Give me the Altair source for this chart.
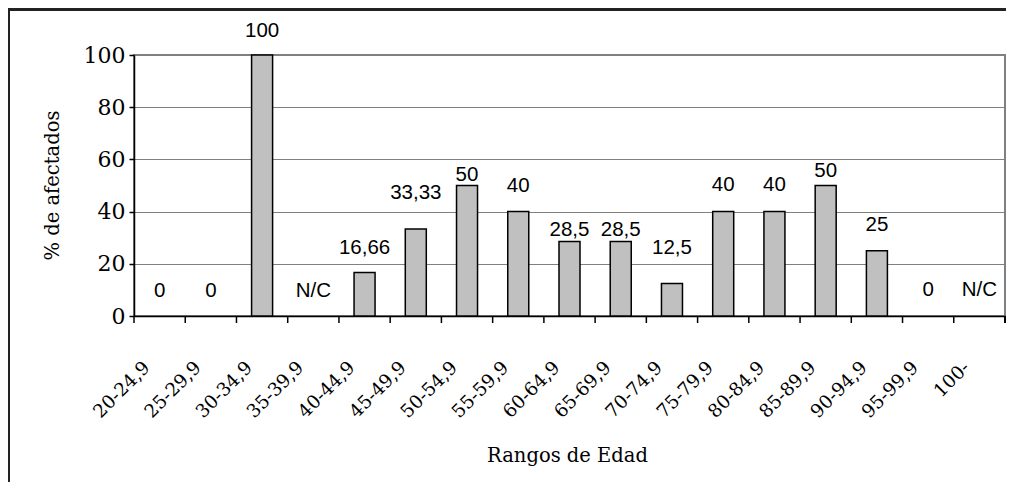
import altair as alt
import pandas as pd

categories = ["20-24,9", "25-29,9", "30-34,9", "35-39,9", "40-44,9", "45-49,9",
              "50-54,9", "55-59,9", "60-64,9", "65-69,9", "70-74,9", "75-79,9",
              "80-84,9", "85-89,9", "90-94,9", "95-99,9", "100-"]
values = [0, 0, 100, None, 16.66, 33.33, 50, 40, 28.5, 28.5, 12.5, 40, 40, 50, 25, 0, None]
label_text = ["0", "0", "100", "N/C", "16,66", "33,33", "50", "40", "28,5", "28,5",
              "12,5", "40", "40", "50", "25", "0", "N/C"]
# vertical position of each data label, in axis units
label_pos = [9.5, 9.5, 109.2, 9.5, 26.2, 47.3, 54.2, 49.9, 33.1, 32.8,
             25.9, 50.2, 50.2, 55.4, 34.9, 10, 10]
y_ticks = [0, 20, 40, 60, 80, 100]

df = pd.DataFrame({"cat": categories, "val": values, "lab": label_text, "pos": label_pos})

SERIF = "DejaVu Serif"
SANS = "Liberation Sans"
PLOT_W, PLOT_H = 871, 261

x_scale = alt.Scale(domain=categories, paddingInner=0, paddingOuter=0)
x_axis = alt.Axis(
    labelAngle=315, labelAlign="right", labelBaseline="middle",
    labelFont=SERIF, labelFontSize=18.5, labelColor="black",
    labelOffset=-13, labelPadding=48, labelOverlap=False,
    ticks=False,
    domainColor="black", domainWidth=1.5, grid=False,
    titleFont=SERIF, titleFontSize=19.5, titleFontWeight="normal", titleColor="black",
    titleX=433, titleY=139, titleBaseline="middle", titleAlign="center",
)

y_scale = alt.Scale(domain=[0, 100], nice=False)
y_axis = alt.Axis(
    values=y_ticks, labelFont=SERIF, labelFontSize=22, labelColor="black",
    labelPadding=4, tickSize=5, tickColor="black", tickWidth=1.5,
    domainColor="black", domainWidth=1.5,
    grid=True, gridColor="#808080", gridWidth=1,
    titleFont=SERIF, titleFontSize=19.5, titleFontWeight="normal", titleColor="black",
    titleX=-82, titleY=130, titleAngle=270, titleAlign="center", titleBaseline="middle",
)

base = alt.Chart(df)

bars = base.transform_filter("datum.val > 0").mark_bar(
    width=alt.RelativeBandSize(0.41), fill="#c0c0c0", stroke="black", strokeWidth=1.5
).encode(
    x=alt.X("cat:N", sort=categories, scale=x_scale, axis=x_axis, title="Rangos de Edad"),
    y=alt.Y("val:Q", scale=y_scale, axis=y_axis, title="% de afectados"),
)

labels = base.mark_text(font=SANS, fontSize=20.5, color="black", baseline="middle", align="center").encode(
    x=alt.X("cat:N", sort=categories, scale=x_scale, axis=x_axis, title="Rangos de Edad"),
    y=alt.Y("pos:Q", scale=y_scale, axis=y_axis, title="% de afectados"),
    text="lab:N",
)

# x-axis ticks at the category boundaries
ticks = base.mark_tick(color="black", orient="vertical", size=7, thickness=1.5, opacity=1).encode(
    x=alt.X("cat:N", sort=categories, scale=x_scale, axis=x_axis, bandPosition=0,
            title="Rangos de Edad"),
    y=alt.value(PLOT_H + 3.5),
)
end_tick = base.mark_rule(color="black", strokeWidth=1.5).encode(
    x=alt.value(PLOT_W), y=alt.value(PLOT_H), y2=alt.value(PLOT_H + 7)
)

frame_top = base.mark_rule(color="#222222", strokeWidth=2).encode(
    x=alt.value(-127), x2=alt.value(880), y=alt.value(-45.5)
)
frame_left = base.mark_rule(color="#222222", strokeWidth=2).encode(
    x=alt.value(-125.5), y=alt.value(-46.5), y2=alt.value(430)
)

chart = alt.layer(bars, labels, ticks, end_tick, frame_top, frame_left).properties(
    width=PLOT_W, height=PLOT_H,
    background="white",
    autosize=alt.AutoSizeParams(type="none"),
    padding={"left": 126, "top": 47, "right": 1, "bottom": 166},
).configure_view(stroke="#808080", strokeWidth=2)

chart.save("out.html", embed_options={"renderer": "svg", "actions": False})
